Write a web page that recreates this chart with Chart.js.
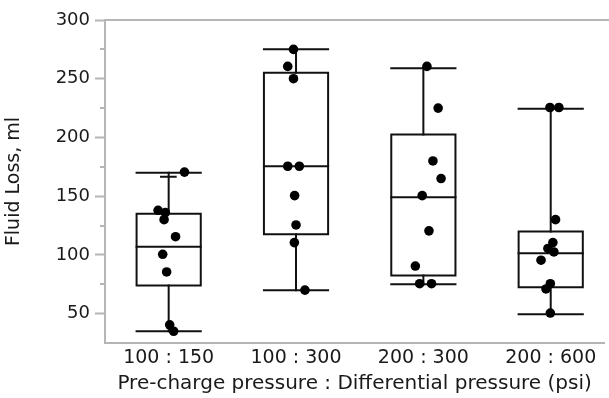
<!DOCTYPE html>
<html>
<head>
<meta charset="utf-8">
<script src="https://cdn.jsdelivr.net/npm/chart.js@4/dist/chart.umd.min.js"></script>
<style>
  html, body { margin: 0; padding: 0; background: #ffffff; }
  #wrap { position: relative; width: 609px; height: 398px; }
</style>
</head>
<body>
<div id="wrap"><canvas id="c" width="609" height="398"></canvas></div>
<script>
// ---- Data ----
const categories = ['100 : 150', '100 : 300', '200 : 300', '200 : 600'];
const yTicks = [50, 100, 150, 200, 250, 300];
const yMinorTicks = [75, 125, 175, 225, 275];

// box statistics per category
const whiskerLow  = [35, 70, 75, 49.5];
const boxLow      = [74, 117.5, 82.5, 72.5];
const medians     = [107, 175.5, 149, 101.5];
const boxHigh     = [135, 255, 202.5, 120];
const whiskerHigh = [170, 275, 259, 224.5];

// individual observations (value) and horizontal jitter (category units)
const pointsA = [170.5, 138, 136, 130, 115.5, 100.5, 85.5, 40.5, 35];
const jitterA = [0.124, -0.083, -0.026, -0.036, 0.054, -0.047, -0.016, 0.008, 0.039];
const pointsB = [275, 260.5, 250, 175.5, 175.5, 150.5, 125.5, 110.5, 70];
const jitterB = [-0.02, -0.065, -0.02, -0.065, 0.026, -0.011, 0, -0.013, 0.07];
const pointsC = [260.5, 225, 180, 165, 150.5, 120.5, 90.5, 75.5, 75.5];
const jitterC = [0.028, 0.116, 0.075, 0.139, -0.009, 0.044, -0.063, -0.029, 0.064];
const pointsD = [225.5, 225.5, 130, 110.5, 105.5, 102.5, 95.5, 75.5, 71, 50.5];
const jitterD = [-0.006, 0.064, 0.038, 0.017, -0.022, 0.025, -0.076, -0.003, -0.037, -0.003];

// short inner cap seen on the first box's upper whisker
const innerCapA = 166.5;

// ---- Build datasets ----
const HALF = 0.252;
const LINE = '#111111';
const datasets = [];
function seg(pts) {
  datasets.push({
    type: 'scatter', data: pts, showLine: true, fill: false,
    borderColor: LINE, borderWidth: 2, pointRadius: 0, pointHoverRadius: 0,
    order: 2, borderCapStyle: 'square', borderJoinStyle: 'miter'
  });
}
for (let i = 0; i < categories.length; i++) {
  const c = i + 1;
  seg([{x: c - HALF, y: boxLow[i]}, {x: c + HALF, y: boxLow[i]}, {x: c + HALF, y: boxHigh[i]},
       {x: c - HALF, y: boxHigh[i]}, {x: c - HALF, y: boxLow[i]}]);
  seg([{x: c - HALF, y: medians[i]}, {x: c + HALF, y: medians[i]}]);
  seg([{x: c, y: boxHigh[i]}, {x: c, y: whiskerHigh[i]}]);
  seg([{x: c - HALF, y: whiskerHigh[i]}, {x: c + HALF, y: whiskerHigh[i]}]);
  seg([{x: c, y: boxLow[i]}, {x: c, y: whiskerLow[i]}]);
  seg([{x: c - HALF, y: whiskerLow[i]}, {x: c + HALF, y: whiskerLow[i]}]);
}
seg([{x: 1 - 0.06, y: innerCapA}, {x: 1 + 0.055, y: innerCapA}]);

[[pointsA, jitterA], [pointsB, jitterB], [pointsC, jitterC], [pointsD, jitterD]].forEach(([vals, jit], i) => {
  datasets.push({
    type: 'scatter',
    data: vals.map((v, k) => ({x: i + 1 + jit[k], y: v})),
    pointRadius: 4.8, pointHoverRadius: 4.8,
    pointBackgroundColor: '#000000', pointBorderColor: '#000000', pointBorderWidth: 0,
    showLine: false, order: 0
  });
});

const AXIS = '#b5b5b5';
const TEXT = '#1a1a1a';
const FONT = '"DejaVu Sans", sans-serif';

const axisDecor = {
  id: 'axisDecor',
  afterDraw(chart) {
    const {ctx, chartArea, scales} = chart;
    ctx.save();
    ctx.strokeStyle = AXIS;
    ctx.lineWidth = 2;
    // top frame line
    ctx.beginPath();
    ctx.moveTo(chartArea.left, chartArea.top);
    ctx.lineTo(chart.width, chartArea.top);
    ctx.stroke();
    // minor ticks
    const y = scales.y;
    yMinorTicks.forEach(v => {
      const py = Math.round(y.getPixelForValue(v));
      ctx.beginPath();
      ctx.moveTo(chartArea.left - 5, py);
      ctx.lineTo(chartArea.left, py);
      ctx.stroke();
    });
    ctx.restore();
  }
};

new Chart(document.getElementById('c'), {
  type: 'scatter',
  data: { datasets },
  options: {
    responsive: false,
    animation: false,
    events: [],
    layout: { padding: { top: 20, right: 0, left: 0, bottom: 0 } },
    plugins: { legend: { display: false }, tooltip: { enabled: false } },
    scales: {
      x: {
        type: 'linear', min: 0.5, max: 4.42,
        afterBuildTicks(s) { s.ticks = categories.map((_, i) => ({value: i + 1})); },
        afterFit(s) { s.height = 55; },
        grid: { display: false, drawTicks: false },
        border: { display: true, color: AXIS, width: 2 },
        ticks: {
          autoSkip: false, maxRotation: 0, padding: 4, color: TEXT,
          font: { family: FONT, size: 19 },
          callback: v => categories[v - 1]
        },
        title: {
          display: true, text: 'Pre-charge pressure : Differential pressure (psi)',
          color: TEXT, font: { family: FONT, size: 20 }, padding: { top: 0, bottom: 2 }
        }
      },
      y: {
        type: 'linear', min: 25, max: 300,
        afterBuildTicks(s) { s.ticks = yTicks.map(v => ({value: v})); },
        afterFit(s) { s.width = 105; },
        grid: { drawOnChartArea: false, drawTicks: true, tickLength: 10, tickColor: AXIS, tickWidth: 2 },
        border: { display: true, color: AXIS, width: 2 },
        ticks: { padding: 5, color: TEXT, font: { family: FONT, size: 18 } },
        title: {
          display: true, text: 'Fluid Loss, ml',
          color: TEXT, font: { family: FONT, size: 19 }, padding: { top: 3, bottom: 0 }
        }
      }
    }
  },
  plugins: [axisDecor]
});
</script>
</body>
</html>
